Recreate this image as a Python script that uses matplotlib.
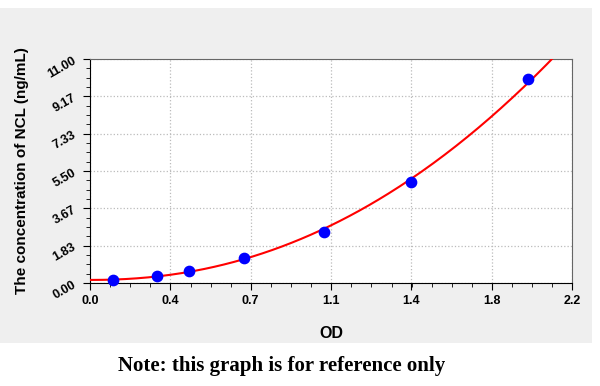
import matplotlib.pyplot as plt
import numpy as np
from matplotlib.patches import Rectangle
from matplotlib.ticker import FixedLocator, AutoMinorLocator

# standard points
od = [0.106, 0.304, 0.453, 0.703, 1.068, 1.464, 1.997]
conc = [0.15, 0.34, 0.59, 1.25, 2.50, 4.97, 10.01]

x_ticks = [0.0, 0.367, 0.733, 1.1, 1.467, 1.833, 2.2]
x_labels = ["0.0", "0.4", "0.7", "1.1", "1.4", "1.8", "2.2"]
y_ticks = [0.0, 1.833, 3.667, 5.5, 7.333, 9.167, 11.0]
y_labels = ["0.00", "1.83", "3.67", "5.50", "7.33", "9.17", "11.00"]


def fit_4pl(x, y):
    # y = d + (a - d) / (1 + (x / c)^b), weighted by 1/sqrt(y);
    # grid over b, c and a linear solve for a, d
    x = np.asarray(x)
    y = np.asarray(y)
    w = 1 / np.sqrt(y)
    best = None
    for b in np.linspace(0.8, 6.0, 105):
        for c in np.geomspace(0.8, 60.0, 200):
            f = 1.0 / (1.0 + (x / c) ** b)
            A = np.column_stack([f, 1 - f])
            sol, *_ = np.linalg.lstsq(A * w[:, None], y * w, rcond=None)
            err = np.sum(((A @ sol - y) * w) ** 2)
            if best is None or err < best[0]:
                best = (err, sol[0], b, c, sol[1])
    return best[1:]


plt.rcParams["font.family"] = ["Liberation Sans", "DejaVu Sans"]

fig = plt.figure(figsize=(6, 3.86), dpi=100)
fig.patch.set_facecolor("white")
# gray panel behind the plot
fig.patches.append(Rectangle((0, 1 - 343 / 386), 592 / 600, (343 - 8) / 386,
                             transform=fig.transFigure, facecolor="#efefef",
                             edgecolor="none", zorder=-5))

ax = fig.add_axes([90 / 600, 1 - 283 / 386, (572 - 90) / 600, (283 - 59) / 386])
ax.set_zorder(2)
ax.set_facecolor("white")

a, b, c, d = fit_4pl(od, conc)
xs = np.linspace(0, 2.2, 300)
ys = d + (a - d) / (1 + (xs / c) ** b)
ax.plot(xs, ys, color="red", lw=1.5, zorder=3, clip_on=True)
ax.scatter(od, conc, s=55, color="blue", zorder=4, clip_on=False)

ax.set_xlim(0, 2.2)
ax.set_ylim(0, 11)
ax.xaxis.set_major_locator(FixedLocator(x_ticks))
ax.yaxis.set_major_locator(FixedLocator(y_ticks))
ax.set_xticklabels(x_labels, fontsize=9, fontweight="bold")
ax.set_yticklabels(y_labels, fontsize=9, fontweight="bold", rotation=30)
ax.xaxis.set_minor_locator(AutoMinorLocator(4))
ax.yaxis.set_minor_locator(AutoMinorLocator(4))
ax.tick_params(which="both", direction="out", color="black")
ax.tick_params(which="major", length=5)
ax.tick_params(which="minor", length=3)
ax.grid(True, which="major", color="#bbbbbb", linestyle=":", lw=0.9)

for side in ["top", "right"]:
    ax.spines[side].set_color("#666666")
for side in ["left", "bottom"]:
    ax.spines[side].set_color("black")

ax.set_xlabel("OD", fontsize=11.5, fontweight="bold", labelpad=14)
ax.set_ylabel("The concentration of NCL (ng/mL)", fontsize=11,
              fontweight="bold", labelpad=12)

fig.text(281.5 / 600, 1 - 366 / 386, "Note: this graph is for reference only",
         ha="center", va="center", fontsize=15, fontweight="bold",
         family=["Liberation Serif", "DejaVu Serif"])

fig.savefig("out.png", dpi=100)
